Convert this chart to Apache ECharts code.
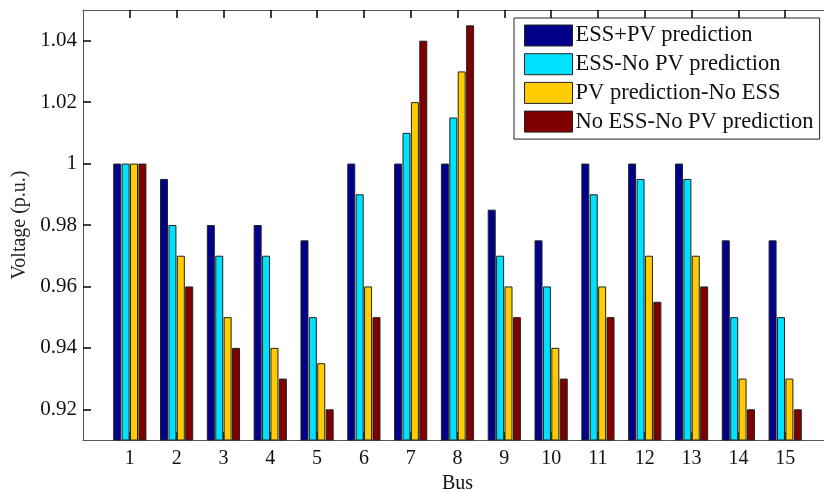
<!DOCTYPE html>
<html>
<head>
<meta charset="utf-8">
<script src="https://cdn.jsdelivr.net/npm/echarts@6/dist/echarts.min.js"></script>
<style>html,body{margin:0;padding:0;background:#fff;}#c{width:824px;height:494px;}</style>
</head>
<body>
<div id="c"></div>
<script>
const buses = [1,2,3,4,5,6,7,8,9,10,11,12,13,14,15];
const seriesNames = ['ESS+PV prediction','ESS-No PV prediction','PV prediction-No ESS','No ESS-No PV prediction'];
const essPv      = [1, 0.995, 0.98, 0.98, 0.975, 1, 1, 1, 0.985, 0.975, 1, 1, 1, 0.975, 0.975];
const essNoPv    = [1, 0.98, 0.97, 0.97, 0.95, 0.99, 1.01, 1.015, 0.97, 0.96, 0.99, 0.995, 0.995, 0.95, 0.95];
const pvNoEss    = [1, 0.97, 0.95, 0.94, 0.935, 0.96, 1.02, 1.03, 0.96, 0.94, 0.96, 0.97, 0.97, 0.93, 0.93];
const noEssNoPv  = [1, 0.96, 0.94, 0.93, 0.92, 0.95, 1.04, 1.045, 0.95, 0.93, 0.95, 0.955, 0.96, 0.92, 0.92];
const yTicks = [0.92, 0.94, 0.96, 0.98, 1, 1.02, 1.04];
const colors = ['#00008B', '#00E0FF', '#FFCC00', '#800000'];

const allValues = [essPv, essNoPv, pvNoEss, noEssNoPv];
const font = 'Liberation Serif, Times New Roman, serif';

const chart = echarts.init(document.getElementById('c'), null, {renderer: 'canvas'});
const fmtY = v => {
  const hit = yTicks.find(t => Math.abs(t - v) < 1e-6);
  return hit === undefined ? '' : String(hit);
};
const fmtX = v => (buses.indexOf(Math.round(v)) >= 0 && Math.abs(v - Math.round(v)) < 1e-6) ? String(Math.round(v)) : '';

const axisLineStyle = {color: '#555', width: 1};
const tickStyle = {color: '#000', width: 1.5};
chart.setOption({
  animation: false,
  backgroundColor: '#fff',
  grid: {left: 83, right: -8, top: 10, bottom: 54, containLabel: false, outerBoundsMode: 'none'},
  legend: {
    data: seriesNames,
    orient: 'vertical',
    left: 514, top: 18,
    padding: [6, 6, 6, 10],
    itemWidth: 48, itemHeight: 21, itemGap: 5.7,
    backgroundColor: '#fff',
    borderColor: '#222', borderWidth: 1,
    icon: 'rect',
    itemStyle: {borderColor: '#222', borderWidth: 1},
    textStyle: {fontFamily: font, fontSize: 22.5, lineHeight: 21, color: '#111', padding: [0,0,0,-2]}
  },
  xAxis: [{
    type: 'value', min: 0, max: 16, interval: 1, position: 'bottom',
    name: 'Bus', nameLocation: 'middle', nameGap: 30,
    nameTextStyle: {fontFamily: font, fontSize: 20, color: '#111'},
    axisLine: {show: true, lineStyle: axisLineStyle, onZero: false},
    axisTick: {show: true, inside: true, length: 8, lineStyle: tickStyle, customValues: buses},
    axisLabel: {formatter: fmtX, fontFamily: font, fontSize: 20, color: '#111', margin: 9, customValues: buses},
    splitLine: {show: false}
  }, {
    type: 'value', min: 0, max: 16, interval: 1, position: 'top',
    axisLine: {show: true, lineStyle: axisLineStyle, onZero: false},
    axisTick: {show: true, inside: true, length: 8, lineStyle: tickStyle, customValues: buses},
    axisLabel: {show: false},
    splitLine: {show: false}
  }],
  yAxis: [{
    type: 'value', min: 0.91, max: 1.05, position: 'left',
    name: 'Voltage (p.u.)', nameLocation: 'middle', nameGap: 51,
    nameTextStyle: {fontFamily: font, fontSize: 20, color: '#222'},
    axisLine: {show: true, lineStyle: axisLineStyle, onZero: false},
    axisTick: {show: true, inside: true, length: 8, lineStyle: tickStyle, customValues: yTicks},
    axisLabel: {formatter: fmtY, fontFamily: font, fontSize: 21, color: '#111', margin: 6, customValues: yTicks},
    splitLine: {show: false}
  }, {
    type: 'value', min: 0.91, max: 1.05, position: 'right',
    axisLine: {show: true, lineStyle: axisLineStyle, onZero: false},
    axisTick: {show: true, inside: true, length: 8, lineStyle: tickStyle, customValues: yTicks},
    axisLabel: {show: false},
    splitLine: {show: false}
  }],
  series: seriesNames.map((name, i) => ({
    name: name,
    type: 'bar',
    xAxisIndex: 0, yAxisIndex: 0,
    barWidth: 8,
    barGap: '5%',
    itemStyle: {color: colors[i], borderColor: '#222', borderWidth: 1},
    data: buses.map((b, j) => [b, allValues[i][j]])
  }))
});
</script>
</body>
</html>
